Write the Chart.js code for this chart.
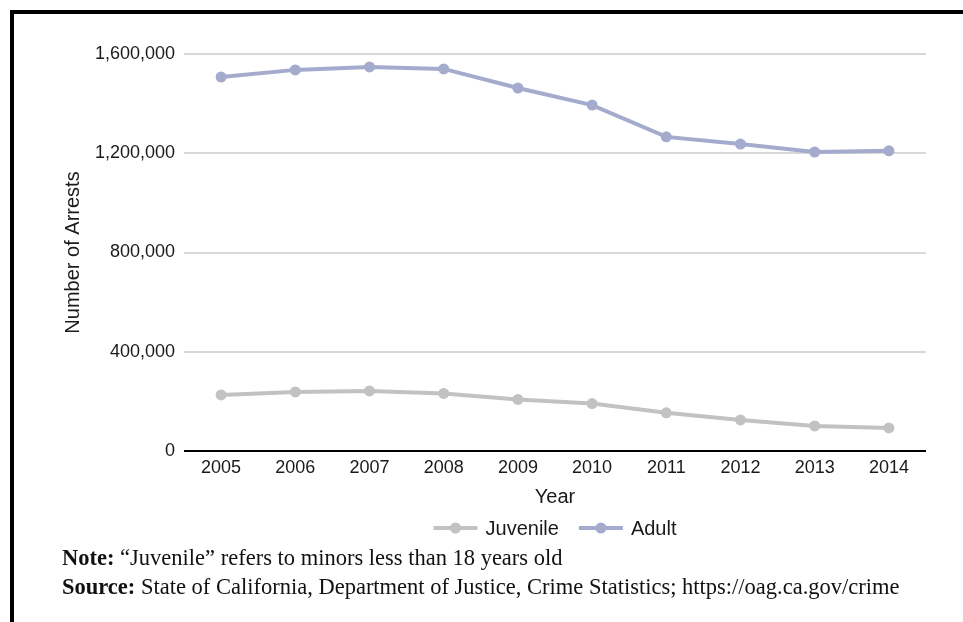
<!DOCTYPE html>
<html>
<head>
<meta charset="utf-8">
<script src="https://cdn.jsdelivr.net/npm/chart.js@4"></script>
<style>
    html, body { margin: 0; padding: 0; background: #fff; }
    #wrap { position: relative; width: 963px; height: 622px; overflow: hidden; }
    #frame { position: absolute; left: 10px; top: 10px; right: -10px; bottom: -10px;
             border-top: 4px solid #000; border-left: 4px solid #000; }
    #arrestsChart { position: absolute; left: 0; top: 0; }
    .note { position: absolute; left: 62px; font-family: "Liberation Serif", "Times New Roman", serif;
            font-size: 22.5px; line-height: 26px; color: #111; white-space: nowrap; }
</style>
</head>
<body>
<div id="wrap">
    <div id="frame"></div>
    <canvas id="arrestsChart" width="963" height="622"></canvas>
    <div class="note" style="top:545px"><b>Note:</b> “Juvenile” refers to minors less than 18 years old</div>
    <div class="note" style="top:574px"><b>Source:</b> State of California, Department of Justice, Crime Statistics; https://oag.ca.gov/crime</div>
</div>
<script>
let years = ["2005", "2006", "2007", "2008", "2009", "2010", "2011", "2012", "2013", "2014"];
let juvenile = [226000, 238000, 242000, 232000, 208000, 191000, 154000, 125000, 101000, 93000];
let adult = [1507000, 1536000, 1548000, 1540000, 1463000, 1394000, 1266000, 1237000, 1205000, 1210000];
let yTicks = [0, 400000, 800000, 1200000, 1600000];

const fontName = '"Liberation Sans", Arial, Helvetica, sans-serif';

// legend drawn by hand: short line with a dot, then the label
const lineLegend = {
    id: 'lineLegend',
    afterDraw(chart) {
        const c = chart.ctx;
        const area = chart.chartArea;
        c.save();
        c.font = '20px ' + fontName;
        const symW = 44, gapText = 8, gapItem = 20;
        let total = 0;
        chart.data.datasets.forEach((ds, i) => {
            total += symW + gapText + c.measureText(ds.label).width;
            if (i > 0) total += gapItem;
        });
        let x = (area.left + area.right) / 2 - total / 2;
        const y = 528;
        chart.data.datasets.forEach(ds => {
            c.strokeStyle = ds.borderColor;
            c.lineWidth = 4;
            c.beginPath();
            c.moveTo(x, y);
            c.lineTo(x + symW, y);
            c.stroke();
            c.fillStyle = ds.borderColor;
            c.beginPath();
            c.arc(x + symW / 2, y, 5.5, 0, Math.PI * 2);
            c.fill();
            c.fillStyle = '#1a1a1a';
            c.textBaseline = 'middle';
            c.textAlign = 'left';
            c.fillText(ds.label, x + symW + gapText, y + 1);
            x += symW + gapText + c.measureText(ds.label).width + gapItem;
        });
        c.restore();
    }
};

document.addEventListener("DOMContentLoaded", function () {
    const ctx = document.getElementById('arrestsChart').getContext('2d');

    new Chart(ctx, {
        type: 'line',
        data: {
            labels: years,
            datasets: [{
                label: 'Juvenile',
                data: juvenile,
                borderColor: '#c2c2c2',
                backgroundColor: '#c2c2c2',
                pointBackgroundColor: '#c2c2c2',
                borderWidth: 4,
                pointRadius: 5.5,
                pointBorderWidth: 0,
                tension: 0,
                fill: false
            }, {
                label: 'Adult',
                data: adult,
                borderColor: '#a4abcd',
                backgroundColor: '#a4abcd',
                pointBackgroundColor: '#a4abcd',
                borderWidth: 4,
                pointRadius: 5.5,
                pointBorderWidth: 0,
                tension: 0,
                fill: false
            }]
        },
        options: {
            responsive: false,
            animation: false,
            layout: {
                padding: { top: 54, right: 37, bottom: 111, left: 0 }
            },
            scales: {
                x: {
                    offset: true,
                    grid: { display: false },
                    border: { display: false },
                    ticks: {
                        color: '#1a1a1a',
                        padding: -2,
                        maxRotation: 0,
                        font: { family: fontName, size: 18 }
                    },
                    title: {
                        display: true,
                        text: 'Year',
                        color: '#1a1a1a',
                        padding: { top: 0, bottom: 2 },
                        font: { family: fontName, size: 20 }
                    },
                    afterFit(scale) { scale.height = 60; }
                },
                y: {
                    min: 0,
                    max: 1600000,
                    afterBuildTicks(scale) {
                        scale.ticks = yTicks.map(v => ({ value: v }));
                    },
                    grid: {
                        drawTicks: false,
                        lineWidth: 2,
                        color: c => c.tick && c.tick.value === 0 ? '#000' : '#d8d8d8'
                    },
                    border: { display: false },
                    ticks: {
                        color: '#1a1a1a',
                        padding: 9,
                        font: { family: fontName, size: 18 },
                        callback: v => v.toLocaleString('en-US')
                    },
                    title: {
                        display: true,
                        text: 'Number of Arrests',
                        color: '#1a1a1a',
                        padding: { top: 61, bottom: 0 },
                        font: { family: fontName, size: 20 }
                    },
                    afterFit(scale) { scale.width = 184; }
                }
            },
            plugins: {
                legend: { display: false },
                tooltip: { enabled: false }
            }
        },
        plugins: [lineLegend]
    });
});
</script>
</body>
</html>
